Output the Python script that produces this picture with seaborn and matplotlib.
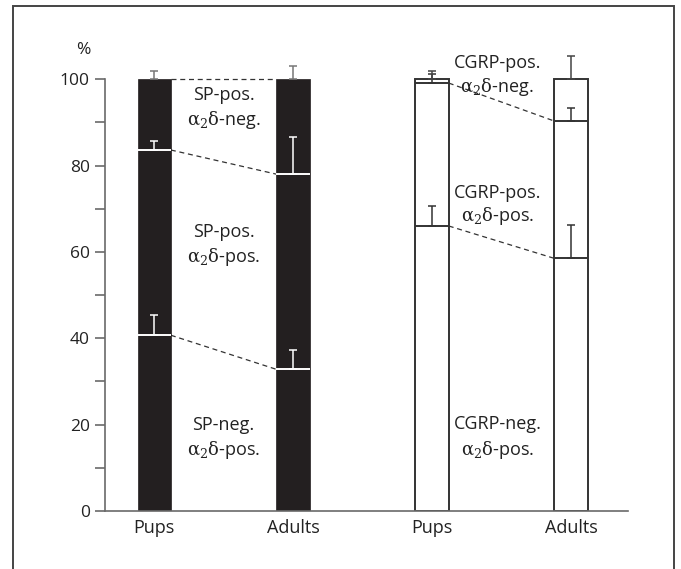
import numpy as np
import pandas as pd
import matplotlib
matplotlib.use('Agg')
import matplotlib.pyplot as plt
from matplotlib.patches import Rectangle
import seaborn as sns

# bar categories and stacked boundaries (%)
bars = ['SP Pups', 'SP Adults', 'CGRP Pups', 'CGRP Adults']
tick_labels = ['Pups', 'Adults', 'Pups', 'Adults']
totals = [100, 100, 100, 100]
lower = [40.7, 32.8, 66.0, 58.5]
upper = [83.6, 78.0, 99.1, 90.3]
lower_err = [4.6, 4.6, 4.6, 7.7]
upper_err = [2.1, 8.6, 2.0, 3.1]
total_err = [2.0, 3.0, 1.8, 5.3]

sns.set_style('ticks')
plt.rcParams['font.family'] = ['Open Sans', 'DejaVu Sans']
plt.rcParams['mathtext.fontset'] = 'dejavuserif'

black = '#231f20'
axcol = '#6a6a6a'
txtcol = '#222222'

fig = plt.figure(figsize=(6.81, 5.69), dpi=100)
ax = fig.add_axes([105/681, 58/569, 523/681, 475/569])

d = pd.DataFrame({'bar': bars, 'total': totals})
sns.barplot(data=d, x='bar', y='total', hue='bar', palette=[black, black, 'white', 'white'],
            width=0.24, legend=False, ax=ax, saturation=1)

patches = [c.patches[0] for c in ax.containers]
for i, p in enumerate(patches):
    if i < 2:
        p.set_edgecolor(black)
        p.set_linewidth(0.5)
    else:
        p.set_edgecolor('#333333')
        p.set_linewidth(1.4)
    p.set_zorder(2)

# boundaries inside the bars + error bars
for i, p in enumerate(patches):
    x0, w = p.get_x(), p.get_width()
    xc = x0 + w / 2
    inner = 'white' if i < 2 else '#333333'
    for val, err in [(lower[i], lower_err[i]), (upper[i], upper_err[i])]:
        ax.hlines(val, x0, x0 + w, color=inner, lw=1.4, zorder=3)
        ax.errorbar(xc, val, yerr=[[0], [err]], fmt='none', ecolor=inner,
                    elinewidth=1.1, capsize=2.6, capthick=1.1, zorder=4)
    ax.errorbar(xc, totals[i], yerr=[[0], [total_err[i]]], fmt='none',
                ecolor='#777777' if i < 2 else '#444444',
                elinewidth=1.1, capsize=2.6, capthick=1.1, zorder=4, clip_on=False)

# dashed connectors between pups and adults
for a, b in [(0, 1), (2, 3)]:
    pa, pb = patches[a], patches[b]
    xa = pa.get_x() + pa.get_width()
    xb = pb.get_x()
    pairs = [(lower[a], lower[b]), (upper[a], upper[b])]
    if a == 0:
        pairs.append((totals[a], totals[b]))
    for ya, yb in pairs:
        ax.plot([xa, xb], [ya, yb], ls=(0, (4, 3)), color='#333333', lw=0.9, zorder=1)

fs = 13
labels = [
    (0.5, 96.3, 'SP-pos.'), (0.5, 90.6, r'$\mathrm{\alpha_2\delta}$-neg.'),
    (0.5, 64.5, 'SP-pos.'), (0.5, 58.8, r'$\mathrm{\alpha_2\delta}$-pos.'),
    (0.5, 19.9, 'SP-neg.'), (0.5, 14.2, r'$\mathrm{\alpha_2\delta}$-pos.'),
    (2.47, 103.8, 'CGRP-pos.'), (2.47, 98.2, r'$\mathrm{\alpha_2\delta}$-neg.'),
    (2.47, 73.7, 'CGRP-pos.'), (2.47, 68.4, r'$\mathrm{\alpha_2\delta}$-pos.'),
    (2.47, 20.2, 'CGRP-neg.'), (2.47, 14.2, r'$\mathrm{\alpha_2\delta}$-pos.'),
]
for x, y, t in labels:
    ax.text(x, y, t, ha='center', va='center', fontsize=fs, color=txtcol)

ax.set_xlim(-0.354, 3.41)
ax.set_ylim(0, 110)
ax.set_yticks([0, 20, 40, 60, 80, 100])
ax.set_yticks([10, 30, 50, 70, 90], minor=True)
ax.set_xticks(range(4))
ax.set_xticklabels(tick_labels)
ax.set_xlabel('')
ax.set_ylabel('')
sns.despine(ax=ax, top=True, right=True)
ax.spines['left'].set_bounds(0, 100)
for s in ['left', 'bottom']:
    ax.spines[s].set_color(axcol)
    ax.spines[s].set_linewidth(1.2)
ax.tick_params(axis='y', which='both', length=7, width=1.2, color=axcol, labelsize=12.5,
               pad=4, labelcolor=txtcol)
ax.tick_params(axis='x', length=0, labelsize=13, pad=6, labelcolor=txtcol)
ax.text(-0.042, 106.7, '%', transform=ax.get_yaxis_transform(), ha='center', va='center',
        fontsize=12.5, color=txtcol)

# outer frame
fig.patches.append(Rectangle((13/681, -0.02), 661/681, 563/569 + 0.02, transform=fig.transFigure,
                             fill=False, edgecolor='#444444', lw=1.4))

fig.savefig('out.png', dpi=100)
